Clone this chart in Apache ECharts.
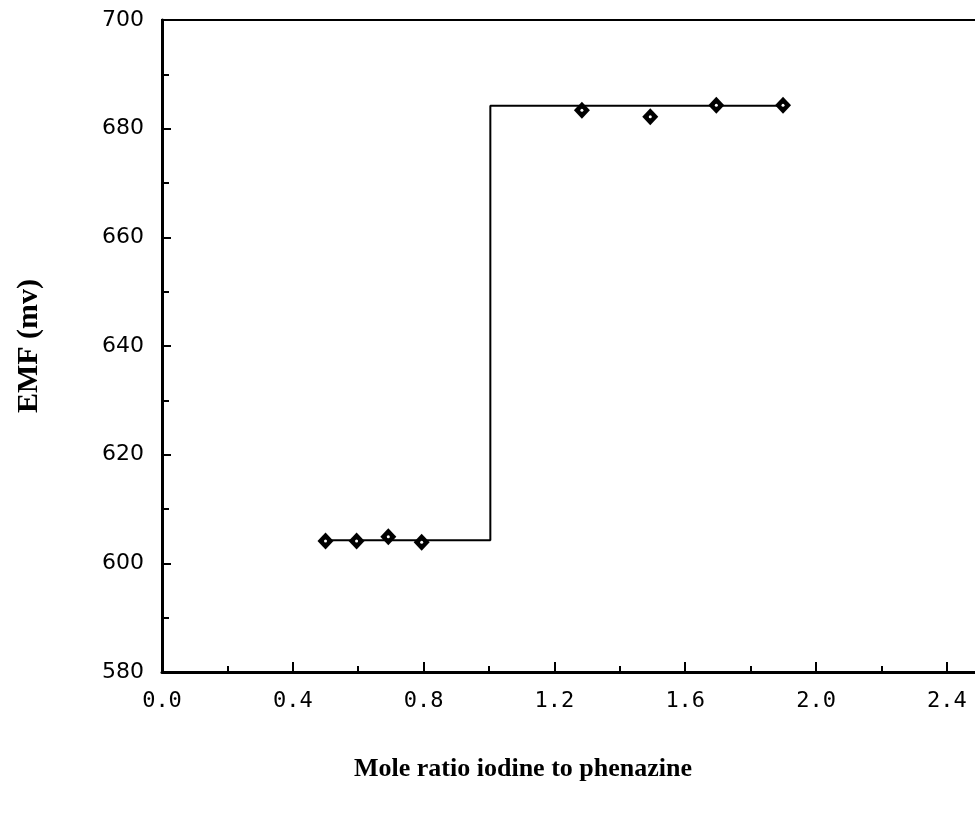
<!DOCTYPE html>
<html>
<head>
<meta charset="utf-8">
<script src="https://cdn.jsdelivr.net/npm/echarts@6/dist/echarts.min.js"></script>
<style>
html,body{margin:0;padding:0;background:#fff;}
#chart{width:975px;height:813px;}
</style>
</head>
<body>
<div id="chart"></div>
<script>
// Measured points (mole ratio, EMF mV)
const ratioValues = [0.50, 0.595, 0.692, 0.794, 1.284, 1.493, 1.695, 1.899];
const emfValues   = [604.1, 604.1, 604.9, 603.9, 683.4, 682.2, 684.3, 684.3];
// Fitted step line
const stepX = [0.50, 1.004, 1.004, 1.899];
const stepY = [604.25, 604.25, 684.2, 684.2];
// Axis settings
const xTicks = ['0.0','0.4','0.8','1.2','1.6','2.0','2.4'];
const yTicks = ['580','600','620','640','660','680','700'];
const xTitle = 'Mole ratio iodine to phenazine';
const yTitle = 'EMF (mv)';

const points = ratioValues.map((x, i) => [x, emfValues[i]]);
const stepData = stepX.map((x, i) => [x, stepY[i]]);

const chart = echarts.init(document.getElementById('chart'), null, {renderer: 'canvas'});
chart.setOption({
  animation: false,
  backgroundColor: '#fff',
  grid: {
    left: 162, top: 20, width: 830, height: 652,
    outerBoundsMode: 'none', containLabel: false,
    show: true, borderColor: '#000', borderWidth: 2, backgroundColor: 'transparent'
  },
  xAxis: {
    type: 'value', min: 0, max: 2.538, interval: 0.4,
    splitLine: {show: false},
    axisLine: {show: true, onZero: false, lineStyle: {color: '#000', width: 3}},
    axisTick: {show: true, inside: true, length: 10, lineStyle: {color: '#000', width: 2}},
    minorTick: {show: true, splitNumber: 2, length: 6, lineStyle: {color: '#000', width: 2}},
    minorSplitLine: {show: false},
    axisLabel: {
      margin: 18, color: '#000', fontFamily: 'DejaVu Sans Mono', fontSize: 22,
      showMaxLabel: false,
      formatter: v => { const i = Math.round(v / 0.4); return (Math.abs(v - i*0.4) < 1e-6 && xTicks[i]) ? xTicks[i] : ''; }
    },
    name: xTitle, nameLocation: 'middle', nameGap: 84,
    nameTextStyle: {color: '#000', fontFamily: 'Liberation Serif', fontWeight: 'bold', fontSize: 26, padding: [0, 108, 0, 0]}
  },
  yAxis: {
    type: 'value', min: 580, max: 700, interval: 20,
    splitLine: {show: false},
    axisLine: {show: true, onZero: false, lineStyle: {color: '#000', width: 3}},
    axisTick: {show: true, inside: true, length: 9, lineStyle: {color: '#000', width: 2}},
    minorTick: {show: true, splitNumber: 2, length: 7, lineStyle: {color: '#000', width: 2}},
    minorSplitLine: {show: false},
    axisLabel: {
      margin: 18, color: '#000', fontFamily: 'DejaVu Sans', fontSize: 22,
      formatter: v => { const i = Math.round((v - 580) / 20); return yTicks[i] || ''; }
    },
    name: yTitle, nameLocation: 'middle', nameGap: 118,
    nameTextStyle: {color: '#000', fontFamily: 'Liberation Serif', fontWeight: 'bold', fontSize: 30}
  },
  series: [
    {
      type: 'line', data: stepData, symbol: 'none', silent: true,
      lineStyle: {color: '#000', width: 2}, z: 2
    },
    {
      type: 'scatter', data: points, symbol: 'diamond', symbolSize: [16, 17],
      itemStyle: {color: '#000', opacity: 1}, z: 3
    },
    {
      type: 'scatter', data: points, symbol: 'circle', symbolSize: 3,
      itemStyle: {color: '#fff', opacity: 1}, z: 4
    }
  ]
});
</script>
</body>
</html>
